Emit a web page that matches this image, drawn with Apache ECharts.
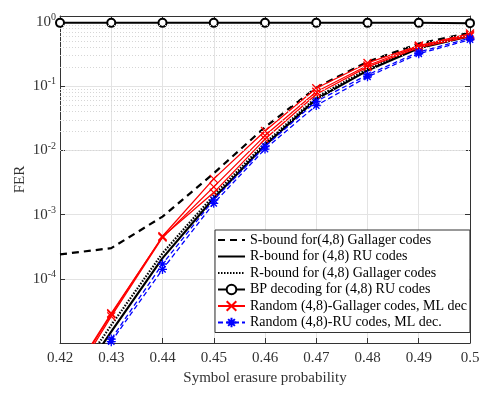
<!DOCTYPE html>
<html>
<head>
<meta charset="utf-8">
<script src="https://cdn.jsdelivr.net/npm/echarts@6/dist/echarts.min.js"></script>
<style>
  html, body { margin: 0; padding: 0; background: #fff; }
  #chart { width: 491px; height: 394px; }
</style>
</head>
<body>
<div id="chart"></div>
<script>
  // erasure probabilities on the x axis
  let xs = [0.42, 0.43, 0.44, 0.45, 0.46, 0.47, 0.48, 0.49, 0.5];

  // bounds and BP curve
  let sBound = [2.4e-4, 3.0e-4, 9.3e-4, 4.4e-3, 2.3e-2, 0.095, 0.24, 0.46, 0.68];
  let rBoundRU = [1.0e-6, 1.5e-5, 2.1e-4, 1.8e-3, 1.2e-2, 0.063, 0.175, 0.39, 0.6];
  let rBoundGal = [1.3e-6, 1.9e-5, 2.5e-4, 2.0e-3, 1.3e-2, 0.067, 0.185, 0.41, 0.62];
  let bpRU = [0.97, 0.97, 0.97, 0.97, 0.97, 0.97, 0.97, 0.97, 0.96];

  // random ensembles, ML decoding (several code instances each)
  let galML1 = [1.5e-6, 2.8e-5, 4.6e-4, 3.6e-3, 2.0e-2, 0.093, 0.23, 0.43, 0.66];
  let galML2 = [1.3e-6, 2.6e-5, 4.4e-4, 2.7e-3, 1.7e-2, 0.082, 0.21, 0.42, 0.63];
  let galML3 = [1.6e-6, 2.9e-5, 4.5e-4, 2.2e-3, 1.5e-2, 0.075, 0.2, 0.4, 0.6];
  let ruML1 = [9.0e-7, 1.15e-5, 1.7e-4, 1.7e-3, 1.15e-2, 0.058, 0.15, 0.34, 0.56];
  let ruML2 = [8.0e-7, 1.05e-5, 1.4e-4, 1.5e-3, 1.05e-2, 0.05, 0.14, 0.32, 0.53];

  let names = [
    'S-bound for(4,8) Gallager codes',
    'R-bound for (4,8) RU codes',
    'R-bound for (4,8) Gallager codes',
    'BP decoding for (4,8) RU codes',
    'Random (4,8)-Gallager codes, ML dec',
    'Random (4,8)-RU codes, ML dec.'
  ];

  let font = 'Liberation Serif';
  let chart = echarts.init(document.getElementById('chart'));

  function pairs(ys) {
    return xs.map((x, i) => [x, ys[i]]);
  }

  // dotted minor grid at 2..9 within each decade
  let minorGrid = [];
  for (let e = -5; e < 0; e++) {
    for (let m = 2; m <= 9; m++) {
      minorGrid.push({ yAxis: m * Math.pow(10, e) });
    }
  }

  let crossSym = 'path://M0,0L10,10M10,0L0,10';
  let starSym = 'path://M5,0L5,10M0,5L10,5M1.5,1.5L8.5,8.5M8.5,1.5L1.5,8.5';
  let noFill = 'rgba(0,0,0,0)';

  function blackLine(name, ys, dash) {
    return {
      name: name, type: 'line', data: pairs(ys), symbol: 'none', z: 3,
      lineStyle: { color: '#000', width: 2.2, type: dash },
      itemStyle: { color: noFill, borderColor: noFill, borderWidth: 0 }
    };
  }
  function redLine(ys) {
    return {
      name: names[4], type: 'line', data: pairs(ys),
      symbol: crossSym, symbolSize: 8, z: 4,
      lineStyle: { color: '#ff0000', width: 1.3 },
      itemStyle: { color: noFill, borderColor: '#ff0000', borderWidth: 1.3 }
    };
  }
  function blueLine(ys) {
    return {
      name: names[5], type: 'line', data: pairs(ys),
      symbol: starSym, symbolSize: 9, z: 5,
      lineStyle: { color: '#0000ff', width: 1.3, type: [5, 3] },
      itemStyle: { color: noFill, borderColor: '#0000ff', borderWidth: 1.3 }
    };
  }

  function yLabel(v) {
    let e = Math.round(Math.log10(v));
    if (Math.abs(Math.log10(v) - e) > 1e-6 || e < -4) return '';
    return '{b|10}{s|' + (e < 0 ? '-' + (-e) : e) + '}';
  }

  let option = {
    backgroundColor: '#fff',
    animation: false,
    grid: { left: 60, right: 21, top: 16, bottom: 51 },
    legend: {
      data: names,
      orient: 'vertical',
      left: 215, top: 230,
      backgroundColor: '#fff',
      borderColor: '#333',
      borderWidth: 1,
      borderRadius: 0,
      padding: [3, 3, 3, 2],
      itemWidth: 27, itemHeight: 12, itemGap: 2.5,
      textStyle: { fontFamily: font, fontSize: 14, color: '#000' }
    },
    xAxis: [{
      type: 'value', min: 0.42, max: 0.5, interval: 0.01,
      name: 'Symbol erasure probability', nameLocation: 'middle', nameGap: 28,
      nameTextStyle: { fontFamily: font, fontSize: 15, color: '#333' },
      axisLine: { lineStyle: { color: '#333' } },
      axisTick: { inside: true, length: 5, lineStyle: { color: '#333' } },
      axisLabel: { fontFamily: font, fontSize: 15, color: '#333', margin: 8,
        formatter: v => String(+v.toFixed(2)) },
      splitLine: { lineStyle: { color: '#e3e3e3' } }
    }, {
      type: 'value', min: 0.42, max: 0.5, interval: 0.01, position: 'top',
      axisLine: { lineStyle: { color: '#333' } },
      axisTick: { inside: true, length: 5, lineStyle: { color: '#333' } },
      axisLabel: { show: false }, splitLine: { show: false }
    }],
    yAxis: [{
      type: 'log', logBase: 10, min: 1e-5, max: 1.24,
      name: 'FER', nameLocation: 'middle', nameGap: 32, nameMoveOverlap: false,
      nameTextStyle: { fontFamily: font, fontSize: 15, color: '#333' },
      axisLine: { show: true, lineStyle: { color: '#333' } },
      axisTick: { inside: true, length: 5, lineStyle: { color: '#333' } },
      axisLabel: {
        fontFamily: font, color: '#333', margin: 4,
        formatter: yLabel,
        rich: {
          b: { fontFamily: font, fontSize: 15, color: '#333' },
          s: { fontFamily: font, fontSize: 10, color: '#333', verticalAlign: 'top', padding: [0, 0, 9, 0] }
        }
      },
      splitLine: { lineStyle: { color: '#e3e3e3' } }
    }, {
      type: 'log', logBase: 10, min: 1e-5, max: 1.24, position: 'right',
      axisLine: { show: true, lineStyle: { color: '#333' } },
      axisTick: { inside: true, length: 5, lineStyle: { color: '#333' } },
      axisLabel: { show: false }, splitLine: { show: false }
    }],
    series: [
      {
        name: 'minor', type: 'line', data: [], silent: true,
        markLine: {
          silent: true, symbol: 'none', label: { show: false },
          lineStyle: { color: '#d6d6d6', type: [1, 2], width: 1 },
          data: minorGrid
        }
      },
      blackLine(names[0], sBound, [7, 5]),
      blackLine(names[1], rBoundRU, 'solid'),
      blackLine(names[2], rBoundGal, [1.5, 1.5]),
      {
        name: names[3], type: 'line', data: pairs(bpRU), z: 3,
        symbol: 'emptyCircle', symbolSize: 8,
        lineStyle: { color: '#000', width: 2 },
        itemStyle: { color: '#000', borderColor: '#000', borderWidth: 2 }
      },
      redLine(galML1), redLine(galML2), redLine(galML3),
      blueLine(ruML1), blueLine(ruML2)
    ]
  };

  chart.setOption(option);
</script>
</body>
</html>
